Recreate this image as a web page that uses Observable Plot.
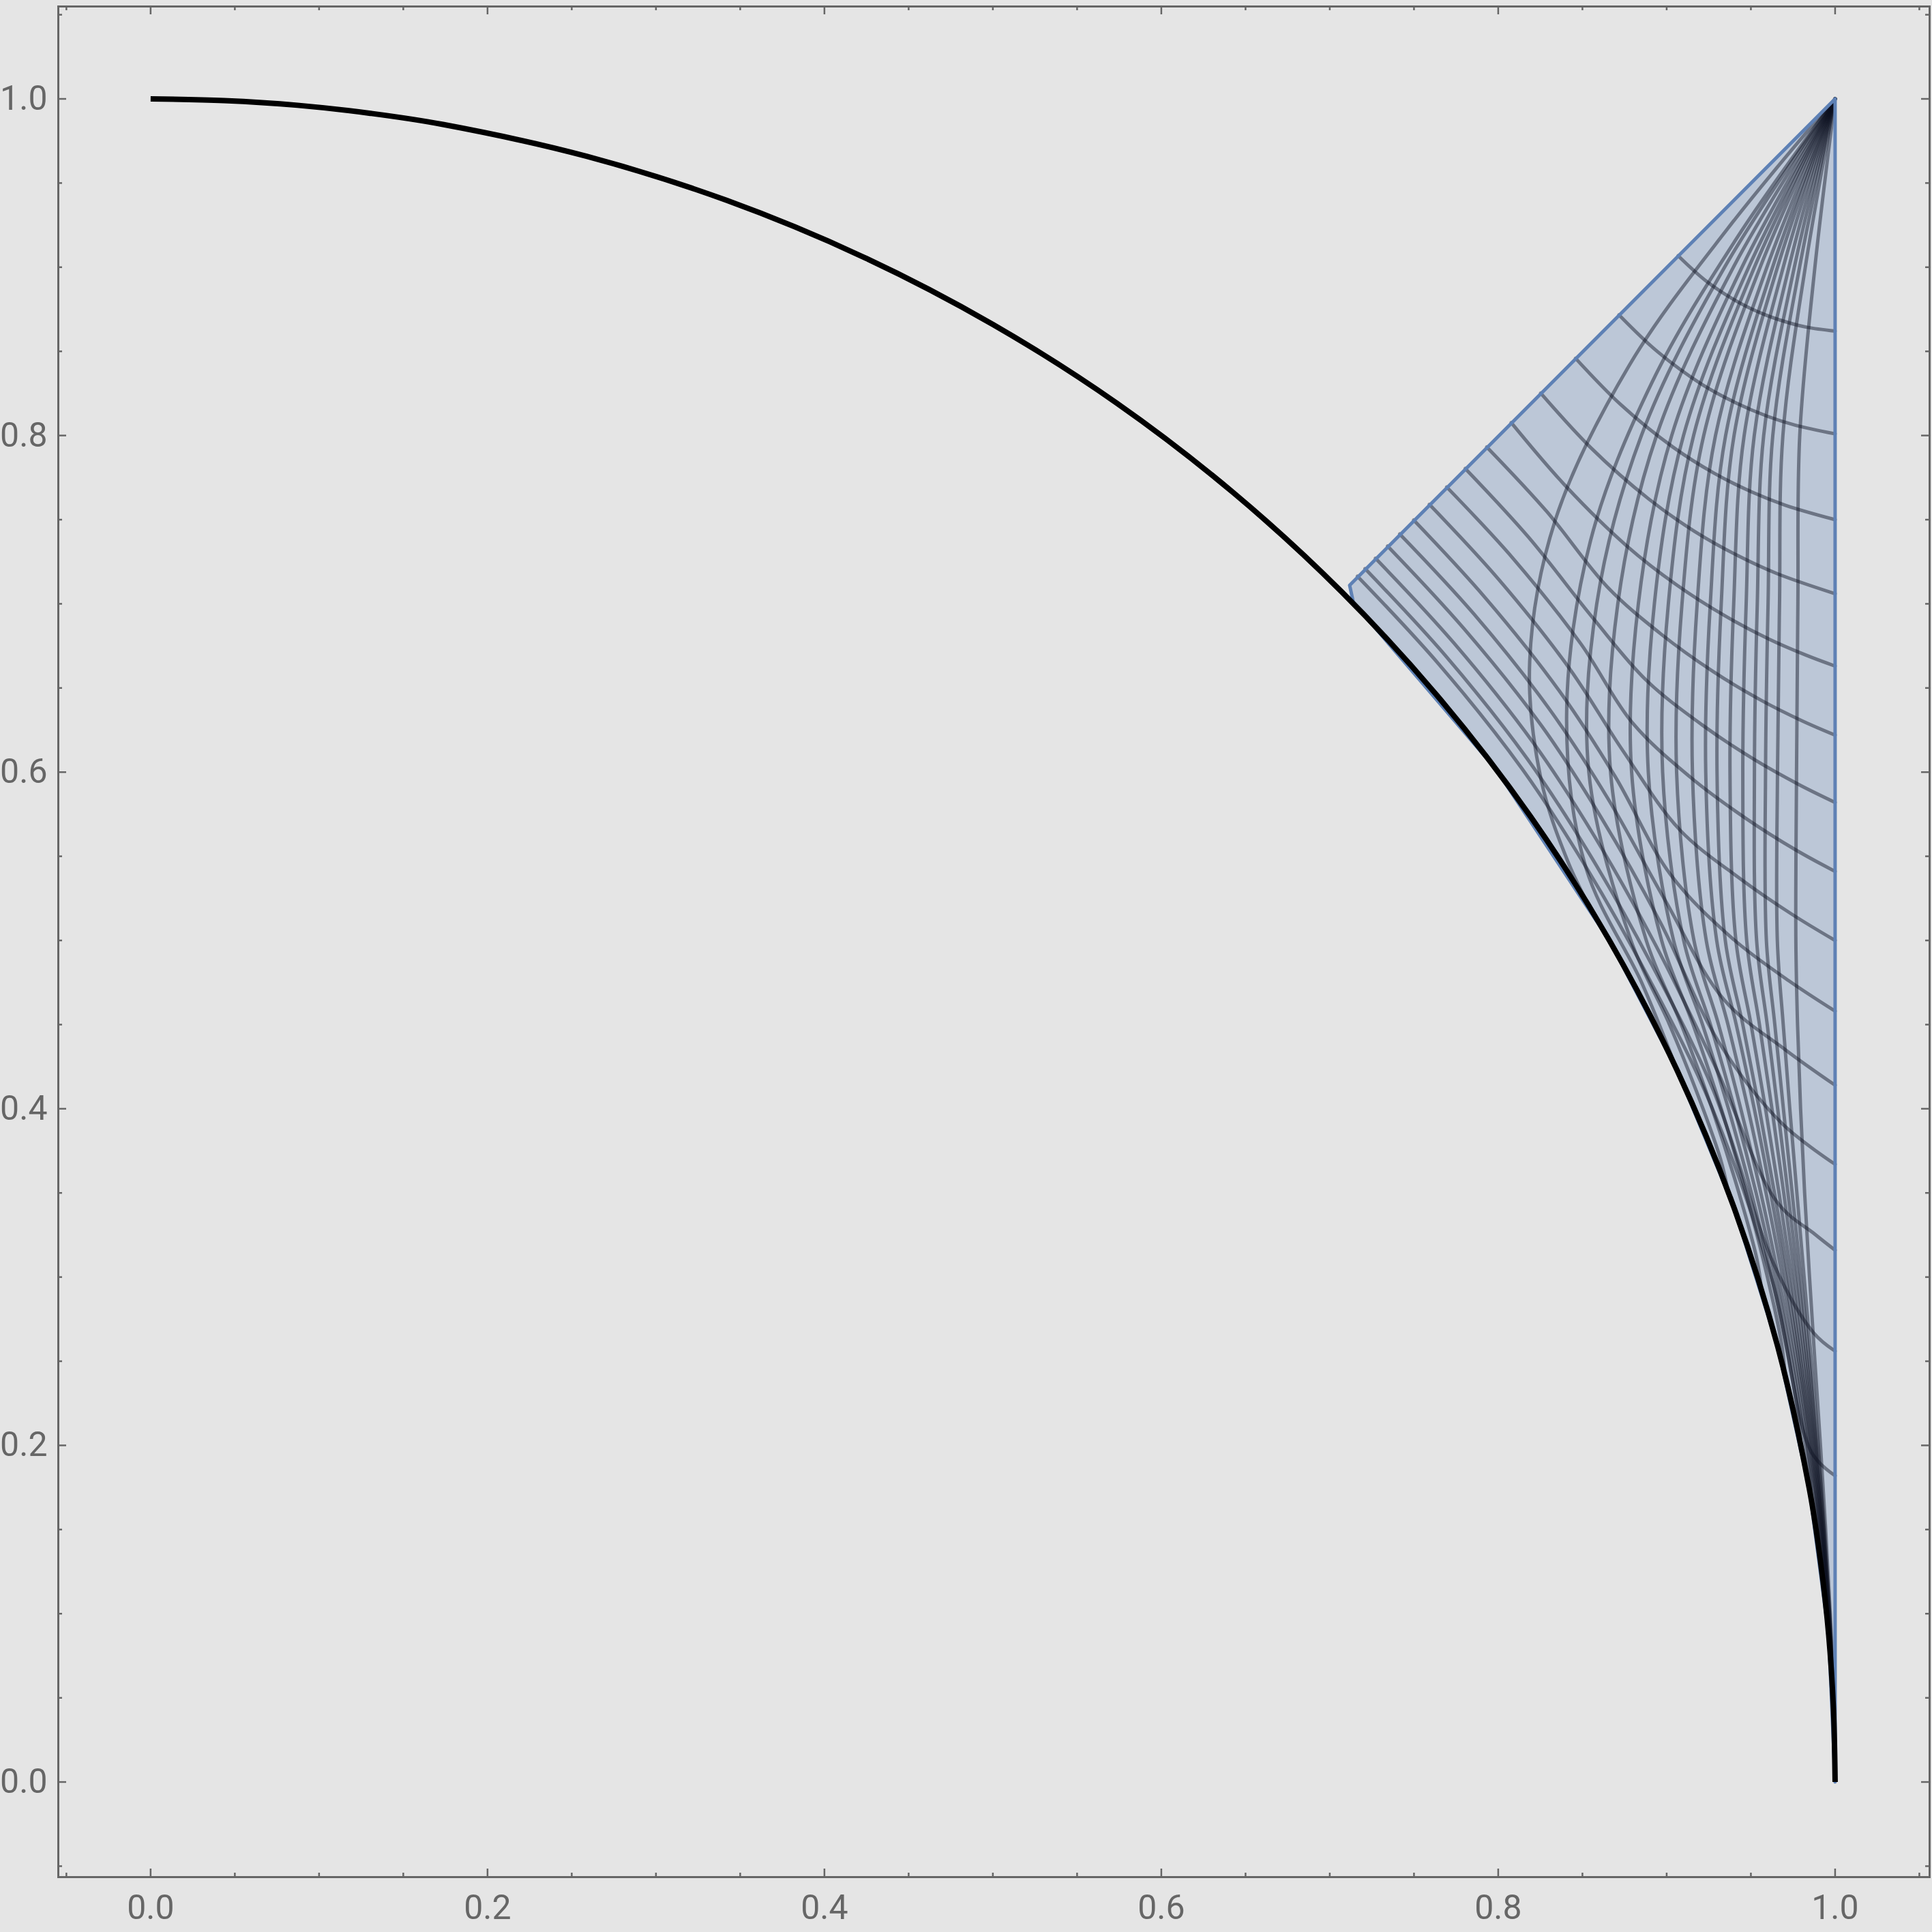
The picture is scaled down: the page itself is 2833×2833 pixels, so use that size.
<!DOCTYPE html>
<html>
<head>
<meta charset="utf-8">
<script src="https://cdn.jsdelivr.net/npm/d3@7"></script>
<script src="https://cdn.jsdelivr.net/npm/@observablehq/plot@0.6"></script>
<style>
html, body { margin: 0; padding: 0; background: #e5e5e5; }
#chart { width: 2833px; height: 2833px; }
</style>
</head>
<body>
<div id="chart"></div>
<script>
// Unit quarter circle (black curve), read at 2.5-5 degree steps
const circleArc = [
  [1, 0], [0.9990, 0.0436], [0.9962, 0.0872], [0.9914, 0.1305], [0.9848, 0.1736], [0.9659, 0.2588], [0.9397, 0.3420],
  [0.9063, 0.4226], [0.8660, 0.5000], [0.8192, 0.5736], [0.7660, 0.6428], [0.7071, 0.7071],
  [0.6428, 0.7660], [0.5736, 0.8192], [0.5000, 0.8660], [0.4226, 0.9063], [0.3420, 0.9397],
  [0.2588, 0.9659], [0.1736, 0.9848], [0.1305, 0.9914], [0.0872, 0.9962], [0.0436, 0.9990], [0, 1]
];

// Shaded region: left boundary x at each y (right boundary is x = 1)
const regionY    = [0, 0.0872, 0.1736, 0.2588, 0.3420, 0.4226, 0.5000, 0.6018, 0.7009, 0.7110, 1];
const regionLeft = [1, 0.9962, 0.9848, 0.9659, 0.9397, 0.9063, 0.8660, 0.7986, 0.7140, 0.7118, 1];

// Mesh family A: curves running from the corner (1,1) down to the arc
const familyA = [
  [[1,1],[.9362,.9229],[.8778,.8417],[.834,.7501],[.8187,.6661],[.8253,.5962],[.8413,.547],[.8571,.5146]],
  [[1,1],[.9423,.9183],[.8915,.832],[.8548,.7375],[.8406,.6331],[.852,.5434],[.8855,.4742],[.9063,.4226]],
  [[1,1],[.9344,.9],[.885,.8],[.8585,.7],[.8538,.6],[.8788,.5],[.9017,.45],[.9216,.4],[.932,.37],[.9367,.3502]],
  [[1,1],[.9396,.9],[.894,.8],[.871,.7],[.8667,.6],[.8879,.5],[.9087,.45],[.927,.4],[.9429,.35],[.9537,.31],[.9563,.2924]],
  [[1,1],[.9447,.9],[.903,.8],[.8832,.7],[.8792,.6],[.897,.5],[.9157,.45],[.9324,.4],[.947,.35],[.9598,.3],[.9683,.26],[.9703,.2419]],
  [[1,1],[.9487,.9],[.91,.8],[.8927,.7],[.8891,.6],[.9041,.5],[.9213,.45],[.9367,.4],[.9503,.35],[.9623,.3],[.9726,.25],[.9785,.215],[.9796,.2011]],
  [[1,1],[.9521,.9],[.916,.8],[.901,.7],[.8976,.6],[.9101,.5],[.926,.45],[.9403,.4],[.9531,.35],[.9644,.3],[.9742,.25],[.9824,.2],[.9852,.18],[.986,.1668]],
  [[1,1],[.9555,.9],[.922,.8],[.9091,.7],[.9059,.6],[.9162,.5],[.9308,.45],[.944,.4],[.9559,.35],[.9664,.3],[.9757,.25],[.9835,.2],[.9898,.15],[.9905,.1374]],
  [[1,1],[.9595,.9],[.929,.8],[.9181,.7],[.9153,.6],[.9235,.5],[.9364,.45],[.9483,.4],[.959,.35],[.9687,.3],[.9772,.25],[.9846,.2],[.9906,.15],[.993,.125],[.9936,.1132]],
  [[1,1],[.9629,.9],[.935,.8],[.9259,.7],[.9232,.6],[.9297,.5],[.9413,.45],[.952,.4],[.9617,.35],[.9706,.3],[.9785,.25],[.9854,.2],[.9912,.15],[.9955,.1],[.9957,.0924]],
  [[1,1],[.9658,.9],[.94,.8],[.9324,.7],[.9299,.6],[.9348,.5],[.9452,.45],[.955,.4],[.964,.35],[.9723,.3],[.9796,.25],[.9862,.2],[.9916,.15],[.9958,.1],[.9972,.075]],
  [[1,1],[.9692,.9],[.946,.8],[.9398,.7],[.9376,.6],[.9411,.5],[.9501,.45],[.9587,.4],[.9667,.35],[.9742,.3],[.9809,.25],[.987,.2],[.9921,.15],[.9961,.1],[.9982,.0593]],
  [[1,1],[.9726,.9],[.952,.8],[.9472,.7],[.9452,.6],[.9475,.5],[.9551,.45],[.9625,.4],[.9695,.35],[.9761,.3],[.9822,.25],[.9878,.2],[.9925,.15],[.9963,.1],[.9985,.06],[.9989,.0471]],
  [[1,1],[.9758,.9],[.9576,.8],[.9538,.7],[.9521,.6],[.9534,.5],[.9597,.45],[.9659,.4],[.972,.35],[.9779,.3],[.9834,.25],[.9885,.2],[.9929,.15],[.9965,.1],[.999,.05],[.9994,.0349]],
  [[1,1],[.9789,.9],[.963,.8],[.9602,.7],[.9587,.6],[.9592,.5],[.9642,.45],[.9693,.4],[.9745,.35],[.9797,.3],[.9846,.25],[.9892,.2],[.9933,.15],[.9967,.1],[.999,.05],[.9997,.0244]],
  [[1,1],[.9823,.9],[.969,.8],[.967,.7],[.9658,.6],[.9657,.5],[.9692,.45],[.9731,.4],[.9773,.35],[.9816,.3],[.9859,.25],[.99,.2],[.9937,.15],[.9968,.1],[.9991,.05],[.9999,.0157]],
  [[1,1],[.988,.9],[.979,.8],[.9779,.7],[.9771,.6],[.9767,.5],[.9777,.45],[.9795,.4],[.9819,.35],[.9848,.3],[.988,.25],[.9913,.2],[.9944,.15],[.9971,.1],[.9991,.05],[1,.0079]]
];

// Mesh family B: curves from the diagonal edge to the edge x = 1
const familyB = [
  [[.9068,.9068],[.9239,.8914],[.9435,.8787],[.9583,.8718],[.9718,.8672],[.9833,.8643],[1,.862]],
  [[.8717,.8717],[.8947,.8497],[.9209,.8304],[.9413,.8193],[.9599,.8114],[.9762,.8062],[1,.801]],
  [[.8459,.8459],[.8728,.8183],[.9036,.7932],[.9278,.7778],[.9504,.7665],[.9704,.7586],[1,.75]],
  [[.8252,.8252],[.8549,.7928],[.8892,.7624],[.9165,.7431],[.9423,.7286],[.9654,.718],[1,.706]],
  [[.8077,.8077],[.8394,.7707],[.8762,.7345],[.9061,.7111],[.9347,.6928],[.9606,.6791],[.9827,.6695],[1,.663]],
  [[.7932,.7932],[.8286,.7551],[.8648,.71],[.8967,.682],[.9277,.6597],[.9561,.6427],[.9806,.6304],[1,.622]],
  [[.7804,.7804],[.8178,.7398],[.8562,.6916],[.8878,.6547],[.921,.6281],[.9518,.6076],[.9787,.5925],[1,.582]],
  [[.7694,.7694],[.8088,.727],[.849,.6763],[.8796,.6294],[.9143,.5968],[.9475,.5722],[.9766,.5538],[1,.541]],
  [[.7591,.7591],[.8002,.7146],[.8422,.6617],[.8741,.6126],[.9077,.5658],[.9431,.5371],[.9746,.5154],[1,.5]],
  [[.7498,.7498],[.7924,.7035],[.8361,.6485],[.8693,.5976],[.9021,.5394],[.9388,.5014],[.9726,.476],[1,.458]],
  [[.7415,.7415],[.7856,.6939],[.8307,.637],[.865,.5845],[.8989,.5242],[.9342,.4646],[.9704,.4351],[1,.414]],
  [[.7343,.7343],[.7796,.6853],[.8261,.627],[.8612,.5729],[.8961,.511],[.9311,.4394],[.9681,.3916],[1,.367]],
  [[.7271,.7271],[.7737,.6767],[.8213,.6168],[.8575,.5613],[.8932,.4977],[.9293,.4242],[.9657,.3443],[.9882,.3253],[1,.316]],
  [[.7209,.7209],[.7685,.6694],[.8172,.608],[.8542,.5513],[.8908,.4863],[.9277,.411],[.9637,.3074],[.9872,.2669],[1,.256]],
  [[.7164,.7164],[.7648,.6641],[.8143,.6018],[.8519,.544],[.8891,.4781],[.9265,.4017],[.9631,.2964],[.986,.1958],[1,.182]]
];

// Frame ticks
const majorTicks = [0, 0.2, 0.4, 0.6, 0.8, 1.0];
const minorTicks = [-0.05, 0.05, 0.1, 0.15, 0.25, 0.3, 0.35, 0.45, 0.5, 0.55, 0.65, 0.7, 0.75, 0.85, 0.9, 0.95, 1.05];
const xDomain = [-0.0548, 1.0561];
const yDomain = [-0.0565, 1.0549];

// ---- build tables ----
const meshRows = [
  ...familyA.flatMap((c, i) => c.map(([x, y]) => ({x, y, id: "A" + i}))),
  ...familyB.flatMap((c, i) => c.map(([x, y]) => ({x, y, id: "B" + i})))
];
const region = regionY.map((y, i) => ({y, x1: regionLeft[i]}));
const boundary = regionY.map((y, i) => [regionLeft[i], y]).reverse();
boundary.push([1, 1]);

const frameColor = "#666666";
const majLen = 12 / 2470, minLen = 6 / 2470;

function ticksFor(values, len) {
  return [
    Plot.ruleX(values, {x: d => d, y1: yDomain[0], y2: yDomain[0] + len, stroke: frameColor, strokeWidth: 2.5}),
    Plot.ruleX(values, {x: d => d, y1: yDomain[1], y2: yDomain[1] - len, stroke: frameColor, strokeWidth: 2.5}),
    Plot.ruleY(values, {y: d => d, x1: xDomain[0], x2: xDomain[0] + len, stroke: frameColor, strokeWidth: 2.5}),
    Plot.ruleY(values, {y: d => d, x1: xDomain[1], x2: xDomain[1] - len, stroke: frameColor, strokeWidth: 2.5})
  ];
}

const chart = Plot.plot({
  width: 2833,
  height: 2833,
  marginLeft: 85,
  marginRight: 4,
  marginTop: 9,
  marginBottom: 81,
  x: {domain: xDomain, axis: null},
  y: {domain: yDomain, axis: null},
  style: {background: "#e5e5e5", fontFamily: "Roboto, 'Open Sans', sans-serif"},
  marks: [
    Plot.areaX(region, {y: "y", x1: "x1", x2: 1, fill: "#5e81b5", fillOpacity: 0.3}),
    Plot.line(meshRows, {x: "x", y: "y", z: "id", stroke: "#0a1020", strokeOpacity: 0.45, strokeWidth: 5, curve: "catmull-rom"}),
    Plot.line(boundary, {x: d => d[0], y: d => d[1], stroke: "#5e81b5", strokeWidth: 5, strokeLinejoin: "round"}),
    Plot.line(circleArc, {x: d => d[0], y: d => d[1], stroke: "#000", strokeWidth: 8, curve: "catmull-rom", strokeLinecap: "butt"}),
    Plot.frame({stroke: frameColor, strokeWidth: 3}),
    ...ticksFor(majorTicks, majLen),
    ...ticksFor(minorTicks, minLen),
    Plot.text(majorTicks, {x: d => d, y: yDomain[0], dy: 45, text: d => d.toFixed(1), fontSize: 50, fill: "#666666", lineAnchor: "middle", textAnchor: "middle"}),
    Plot.text(majorTicks, {x: xDomain[0], y: d => d, dx: -16, text: d => d.toFixed(1), fontSize: 50, fill: "#666666", lineAnchor: "middle", textAnchor: "end"})
  ]
});
document.getElementById("chart").appendChild(chart);
</script>
</body>
</html>
